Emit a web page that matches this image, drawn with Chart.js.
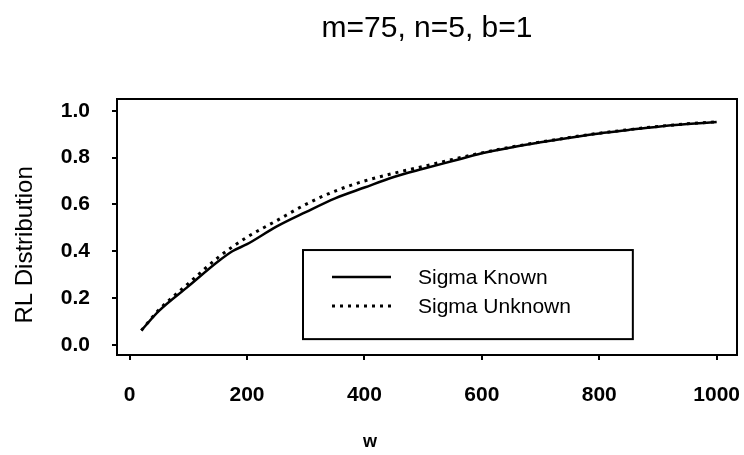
<!DOCTYPE html>
<html>
<head>
<meta charset="utf-8">
<script src="https://cdn.jsdelivr.net/npm/chart.js@4/dist/chart.umd.min.js"></script>
<style>
  html, body { margin: 0; padding: 0; background: #fff; }
  #wrap { width: 744px; height: 455px; }
</style>
</head>
<body>
<div id="wrap"><canvas id="rl-chart" width="744" height="455"></canvas></div>
<script>
  "use strict";

  // run length distribution, m=75, n=5, b=1
  var knownW = [20, 50, 100, 150, 175, 200, 250, 300, 350, 400, 450, 500, 550, 600, 650, 700, 750, 800, 850, 900, 950, 1000];
  var knownRL = [0.062, 0.145, 0.25, 0.355, 0.40, 0.43, 0.505, 0.567, 0.626, 0.672, 0.717, 0.752, 0.785, 0.818, 0.843, 0.865, 0.885, 0.903, 0.918, 0.932, 0.943, 0.952];

  var unknownW = [20, 50, 100, 150, 200, 250, 300, 350, 400, 450, 500, 550, 600, 650, 700, 750, 800, 850, 900, 950, 1000];
  var unknownRL = [0.062, 0.15, 0.262, 0.372, 0.46, 0.53, 0.60, 0.657, 0.70, 0.733, 0.762, 0.792, 0.82, 0.845, 0.866, 0.886, 0.904, 0.919, 0.933, 0.944, 0.953];

  var xTicks = [0, 200, 400, 600, 800, 1000];
  var yTicks = [0, 0.2, 0.4, 0.6, 0.8, 1.0];
  var yTickLabels = ["0.0", "0.2", "0.4", "0.6", "0.8", "1.0"];

  var chartTitle = "m=75, n=5, b=1";
  var xTitle = "w";
  var yTitle = "RL Distribution";

  var FONT = "'Liberation Sans', Arial, Helvetica, sans-serif";

  function toPoints(xs, ys) {
    return xs.map(function (x, i) { return { x: x, y: ys[i] }; });
  }

  // box around the plot area
  var frame = {
    id: "frame",
    afterDatasetsDraw: function (chart) {
      var a = chart.chartArea, ctx = chart.ctx;
      ctx.save();
      ctx.strokeStyle = "#000";
      ctx.lineWidth = 2;
      ctx.strokeRect(a.left, a.top, a.right - a.left, a.bottom - a.top);
      ctx.restore();
    }
  };

  // main title over the plot, axis titles
  var titles = {
    id: "titles",
    afterDraw: function (chart) {
      var a = chart.chartArea, ctx = chart.ctx;
      ctx.save();
      ctx.fillStyle = "#000";
      ctx.textAlign = "center";
      ctx.textBaseline = "middle";
      ctx.font = "30px " + FONT;
      ctx.fillText(chartTitle, (a.left + a.right) / 2, 29);
      ctx.font = "bold 18px " + FONT;
      ctx.fillText(xTitle, a.left + (a.right - a.left) * 0.408, 442);
      ctx.translate(25, a.top + (a.bottom - a.top) * 0.57);
      ctx.rotate(-Math.PI / 2);
      ctx.font = "24px " + FONT;
      ctx.fillText(yTitle, 0, 0);
      ctx.restore();
    }
  };

  // boxed legend inside the plot, lower right
  var boxLegend = {
    id: "boxLegend",
    afterDraw: function (chart) {
      var a = chart.chartArea, ctx = chart.ctx;
      var w = a.right - a.left, h = a.bottom - a.top;
      var bx = a.left + w * 0.30, by = a.top + h * 0.59;
      var bw = w * 0.532, bh = h * 0.348;
      ctx.save();
      ctx.fillStyle = "#fff";
      ctx.fillRect(bx, by, bw, bh);
      ctx.strokeStyle = "#000";
      ctx.lineWidth = 2;
      ctx.strokeRect(bx, by, bw, bh);
      ctx.font = "21px " + FONT;
      ctx.textBaseline = "middle";
      ctx.fillStyle = "#000";
      chart.data.datasets.forEach(function (ds, i) {
        var y = by + 27 + i * 29;
        ctx.beginPath();
        ctx.lineWidth = ds.borderWidth;
        ctx.setLineDash(ds.borderDash || []);
        ctx.moveTo(bx + 29, y);
        ctx.lineTo(bx + 88, y);
        ctx.stroke();
        ctx.setLineDash([]);
        ctx.fillText(ds.label, bx + 115, y + 1);
      });
      ctx.restore();
    }
  };

  var ctx = document.getElementById("rl-chart").getContext("2d");
  var rlChart = new Chart(ctx, {
    type: "line",
    data: {
      datasets: [
        {
          label: "Sigma Known",
          data: toPoints(knownW, knownRL),
          borderColor: "#000",
          borderWidth: 2.5,
          pointRadius: 0,
          cubicInterpolationMode: "monotone",
          fill: false,
        },
        {
          label: "Sigma Unknown",
          data: toPoints(unknownW, unknownRL),
          borderColor: "#000",
          borderWidth: 3,
          borderDash: [3, 5],
          pointRadius: 0,
          cubicInterpolationMode: "monotone",
          fill: false,
        },
      ],
    },
    options: {
      responsive: false,
      animation: false,
      layout: { padding: { top: 99, right: 7, left: 0, bottom: 0 } },
      plugins: {
        legend: { display: false },
        tooltip: { enabled: false },
        title: { display: false },
      },
      scales: {
        x: {
          type: "linear",
          min: -21.5,
          max: 1034.6,
          afterBuildTicks: function (scale) {
            scale.ticks = xTicks.map(function (v) { return { value: v }; });
          },
          afterFit: function (scale) {
            scale.height = 100;
            scale.paddingLeft = 0;
            scale.paddingRight = 0;
          },
          grid: { drawOnChartArea: false, drawTicks: true, tickLength: 5, color: "#000", lineWidth: 2 },
          border: { display: false },
          ticks: {
            color: "#000",
            padding: 23,
            maxRotation: 0,
            font: { family: FONT, size: 21, weight: "bold", lineHeight: 1.2 },
            callback: function (v) { return String(v); },
          },
        },
        y: {
          type: "linear",
          min: -0.043,
          max: 1.05,
          afterBuildTicks: function (scale) {
            scale.ticks = yTicks.map(function (v) { return { value: v }; });
          },
          afterFit: function (scale) {
            scale.width = 117;
            scale.paddingTop = 0;
            scale.paddingBottom = 0;
          },
          grid: { drawOnChartArea: false, drawTicks: true, tickLength: 5, color: "#000", lineWidth: 2 },
          border: { display: false },
          ticks: {
            color: "#000",
            padding: 22,
            font: { family: FONT, size: 21, weight: "bold", lineHeight: 1.2 },
            callback: function (v) { return yTickLabels[yTicks.indexOf(v)]; },
          },
        },
      },
    },
    plugins: [frame, titles, boxLegend],
  });
</script>
</body>
</html>
